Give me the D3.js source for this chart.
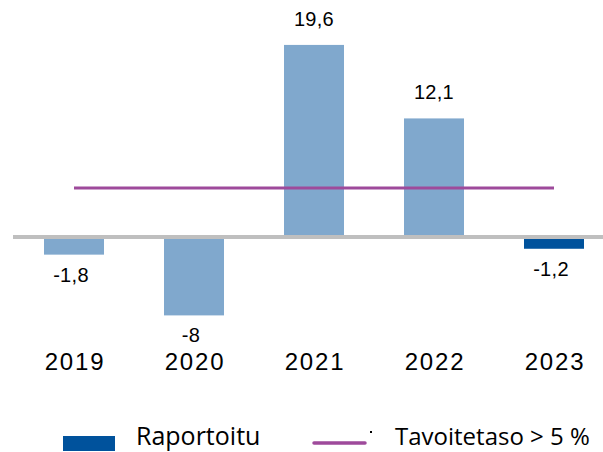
<!DOCTYPE html>
<html><head><meta charset="utf-8">
<script src="https://cdn.jsdelivr.net/npm/d3@7"></script>
<style>body{margin:0;background:#fff}svg{display:block}</style>
</head><body>
<script>
const years = ["2019","2020","2021","2022","2023"];
const values = [-1.8, -8, 19.6, 12.1, -1.2];
const valueLabels = ["-1,8","-8","19,6","12,1","-1,2"];
const reported = [false, false, false, false, true];
const target = 5;
const legendLabels = ["Raportoitu", "Tavoitetaso > 5 %"];

const W = 603, H = 452;
const svg = d3.select("body").append("svg").attr("width", W).attr("height", H);

const x = d3.scaleBand().domain(years).range([14, 614]).paddingInner(0.5).paddingOuter(0.25);
const y = d3.scaleLinear().domain([-10, 20]).range([335, 41]);

const data = years.map((yr, i) => ({yr, v: values[i], lab: valueLabels[i], rep: reported[i]}));

svg.selectAll("rect.bar").data(data).join("rect")
  .attr("class", "bar")
  .attr("x", d => x(d.yr))
  .attr("width", x.bandwidth())
  .attr("y", d => y(Math.max(0, d.v)))
  .attr("height", d => Math.abs(y(d.v) - y(0)))
  .attr("fill", d => d.rep ? "#00529C" : "#80A8CD");

// zero line
svg.append("line").attr("x1", 13).attr("x2", 603).attr("y1", y(0)).attr("y2", y(0))
  .attr("stroke", "#BFBFBF").attr("stroke-width", 4);

// target line
svg.append("line")
  .attr("x1", x(years[0]) + x.bandwidth()/2).attr("x2", x(years[years.length-1]) + x.bandwidth()/2)
  .attr("y1", y(target)).attr("y2", y(target))
  .attr("stroke", "#9E4A9B").attr("stroke-width", 3);

// value labels
svg.selectAll("text.val").data(data).join("text")
  .attr("class", "val")
  .attr("x", d => x(d.yr) + x.bandwidth()/2 + (d.v < 0 ? -3 : 0))
  .attr("y", d => d.v >= 0 ? y(d.v) - 19 : y(d.v) + 27)
  .attr("text-anchor", "middle")
  .attr("font-family", "'Liberation Sans', Arial, sans-serif")
  .attr("font-size", 20).attr("letter-spacing", 0.3)
  .attr("fill", "#000")
  .text(d => d.lab);

// year labels
svg.selectAll("text.yr").data(years).join("text")
  .attr("class", "yr")
  .attr("x", d => x(d) + x.bandwidth()/2 + 1)
  .attr("y", 370)
  .attr("text-anchor", "middle")
  .attr("font-family", "'Liberation Sans', Arial, sans-serif")
  .attr("font-size", 24).attr("letter-spacing", 1.8)
  .attr("fill", "#000")
  .text(d => d);

// legend
const lg = svg.append("g").attr("font-family", "'Open Sans', sans-serif").attr("fill", "#000");
lg.append("rect").attr("x", 63).attr("y", 436).attr("width", 52).attr("height", 15).attr("fill", "#00529C");
lg.append("text").attr("x", 136).attr("y", 445).attr("font-size", 25).text(legendLabels[0]);
lg.append("line").attr("x1", 314).attr("x2", 365).attr("y1", 443).attr("y2", 443)
  .attr("stroke", "#9E4A9B").attr("stroke-width", 3.5).attr("stroke-linecap", "round");
lg.append("rect").attr("x", 370).attr("y", 431).attr("width", 2).attr("height", 2).attr("fill", "#000");
lg.append("text").attr("x", 395).attr("y", 445).attr("font-size", 24).text(legendLabels[1]);
</script>
</body></html>
